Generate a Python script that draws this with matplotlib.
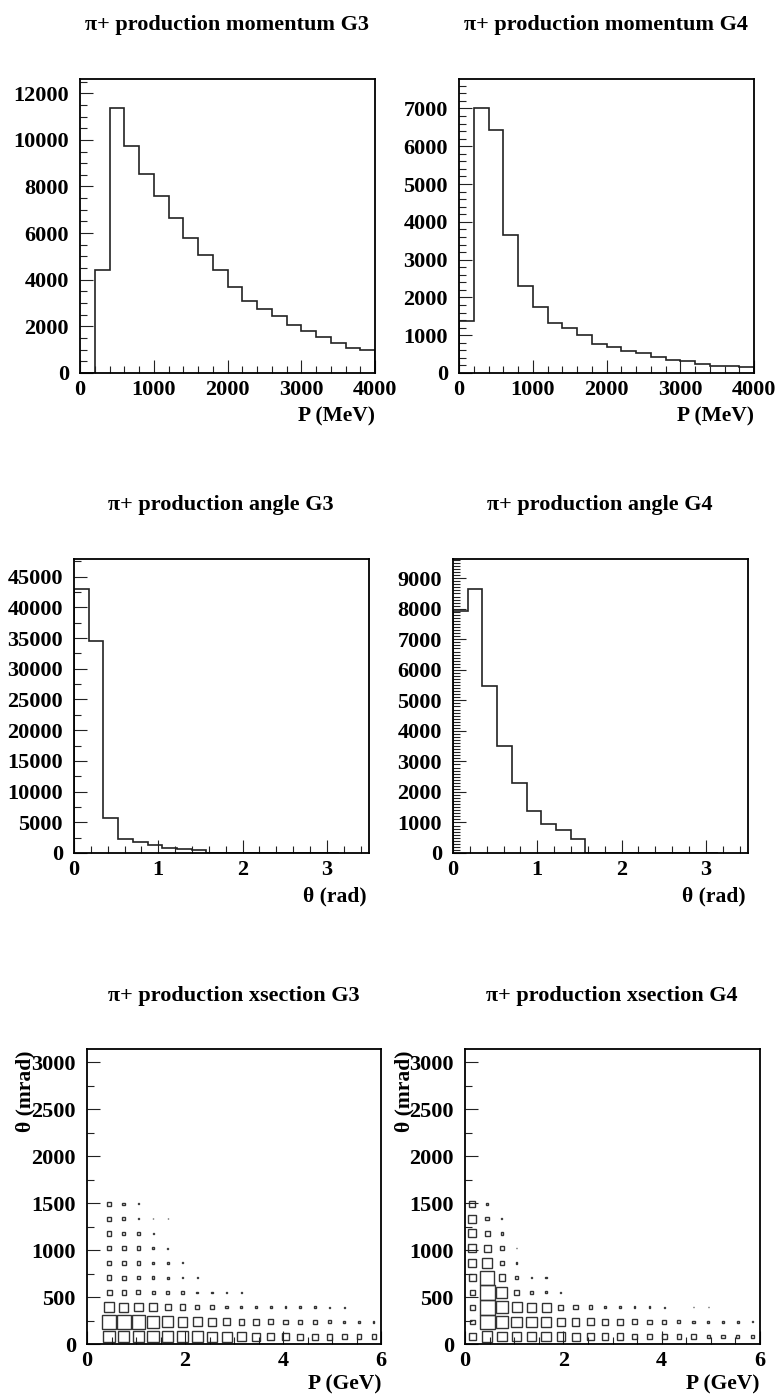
import matplotlib
matplotlib.use("Agg")
import matplotlib.pyplot as plt
import numpy as np
from matplotlib.patches import Rectangle
from matplotlib.ticker import MultipleLocator

W, H = 777, 1396

# momentum histograms, 200 MeV bins from 0 to 4000 MeV
p_edges = np.arange(0, 4001, 200)
mom_g3 = [0, 4410, 11360, 9750, 8520, 7590, 6630, 5790, 5070, 4410,
          3670, 3090, 2750, 2460, 2080, 1790, 1550, 1300, 1070, 970]
mom_g4 = [1370, 7000, 6440, 3640, 2300, 1750, 1330, 1190, 1010, 780,
          690, 590, 520, 420, 350, 320, 250, 190, 190, 150]

# angle histograms, 18 bins from 0 to pi
theta_edges = np.linspace(0, np.pi, 19)
ang_g3 = [43000, 34600, 5690, 2280, 1790, 1250, 870, 650, 430,
          0, 0, 0, 0, 0, 0, 0, 0, 0]
ang_g4 = [7940, 8650, 5470, 3520, 2290, 1390, 960, 740, 460,
          0, 0, 0, 0, 0, 0, 0, 0, 0]

# xsection boxes: 20 P bins (0-6 GeV) x 20 theta bins (0-pi rad), rows from theta=0
box_p_edges = np.linspace(0, 6, 21)
box_t_edges = np.linspace(0, np.pi * 1000, 21)
xs_g3 = [
    [0, 35, 34, 35, 35, 34, 34, 33, 31, 30, 26, 24, 21, 21, 18, 19, 18, 16, 15, 13],
    [0, 45, 43, 42, 37, 34, 30, 28, 26, 22, 17, 18, 15, 14, 12, 11, 9, 6, 5, 4],
    [0, 30, 28, 26, 24, 20, 17, 13, 11, 8, 7, 6, 5, 5, 4, 4, 3, 3, 0, 0],
    [0, 15, 13, 12, 10, 9, 8, 5, 4, 3, 2, 0, 0, 0, 0, 0, 0, 0, 0, 0],
    [0, 14, 12, 10, 8, 6, 4, 2, 0, 0, 0, 0, 0, 0, 0, 0, 0, 0, 0, 0],
    [0, 14, 11, 10, 7, 5, 3, 0, 0, 0, 0, 0, 0, 0, 0, 0, 0, 0, 0, 0],
    [0, 13, 12, 10, 5, 3, 0, 0, 0, 0, 0, 0, 0, 0, 0, 0, 0, 0, 0, 0],
    [0, 13, 10, 7, 3, 0, 0, 0, 0, 0, 0, 0, 0, 0, 0, 0, 0, 0, 0, 0],
    [0, 12, 8, 4, 2, 2, 0, 0, 0, 0, 0, 0, 0, 0, 0, 0, 0, 0, 0, 0],
    [0, 12, 8, 3, 2, 0, 0, 0, 0, 0, 0, 0, 0, 0, 0, 0, 0, 0, 0, 0],
]
xs_g4 = [
    [20, 32, 28, 27, 26, 28, 26, 24, 22, 20, 19, 17, 16, 15, 14, 14, 11, 10, 9, 8],
    [14, 44, 35, 31, 31, 30, 24, 23, 21, 17, 16, 15, 13, 12, 9, 8, 6, 5, 4, 3],
    [15, 44, 36, 30, 27, 27, 15, 13, 10, 7, 6, 5, 4, 3, 0, 2, 2, 0, 0, 0],
    [17, 44, 33, 16, 8, 6, 3, 0, 0, 0, 0, 0, 0, 0, 0, 0, 0, 0, 0, 0],
    [20, 42, 20, 10, 5, 4, 0, 0, 0, 0, 0, 0, 0, 0, 0, 0, 0, 0, 0, 0],
    [24, 30, 13, 5, 0, 0, 0, 0, 0, 0, 0, 0, 0, 0, 0, 0, 0, 0, 0, 0],
    [24, 21, 10, 2, 0, 0, 0, 0, 0, 0, 0, 0, 0, 0, 0, 0, 0, 0, 0, 0],
    [24, 15, 8, 0, 0, 0, 0, 0, 0, 0, 0, 0, 0, 0, 0, 0, 0, 0, 0, 0],
    [24, 10, 3, 0, 0, 0, 0, 0, 0, 0, 0, 0, 0, 0, 0, 0, 0, 0, 0, 0],
    [18, 8, 0, 0, 0, 0, 0, 0, 0, 0, 0, 0, 0, 0, 0, 0, 0, 0, 0, 0],
]

plt.rcParams["font.family"] = ["Liberation Serif", "DejaVu Serif"]
plt.rcParams["font.weight"] = "bold"

fig = plt.figure(figsize=(W / 100, H / 100), dpi=100)


def make_axes(left, top, right, bottom):
    ax = fig.add_axes([left / W, 1 - bottom / H, (right - left) / W, (bottom - top) / H])
    for sp in ax.spines.values():
        sp.set_linewidth(1.3)
    ax.tick_params(which="both", direction="in", top=False, right=False,
                   labelsize=16, width=0.8, colors="#222222", labelcolor="black")
    ax.tick_params(which="major", length=9.5, pad=5)
    ax.tick_params(which="minor", length=4.8)
    ax.tick_params(axis="y", which="major", pad=8)
    return ax


def title(text, xc, yc):
    fig.text(xc / W, 1 - yc / H, text, ha="center", va="center", fontsize=16, fontweight="bold")


def xlabel(text, xr, yc):
    fig.text(xr / W, 1 - yc / H, text, ha="right", va="center", fontsize=15.5, fontweight="bold")


def hist_panel(rect, edges, values, xlim, ylim, xmaj, xmin, ymaj, ymin):
    ax = make_axes(*rect)
    ax.stairs(values, edges, color="#222222", linewidth=1.2)
    ax.set_xlim(*xlim)
    ax.set_ylim(*ylim)
    ax.xaxis.set_major_locator(MultipleLocator(xmaj))
    ax.xaxis.set_minor_locator(MultipleLocator(xmin))
    ax.yaxis.set_major_locator(MultipleLocator(ymaj))
    ax.yaxis.set_minor_locator(MultipleLocator(ymin))
    return ax


def box_panel(rect, counts):
    ax = make_axes(*rect)
    counts = np.array(counts, dtype=float)
    cmax = counts.max()
    cw = box_p_edges[1] - box_p_edges[0]
    ch = box_t_edges[1] - box_t_edges[0]
    for j in range(counts.shape[0]):
        for i in range(counts.shape[1]):
            c = counts[j, i]
            if c <= 0:
                continue
            f = c / cmax
            xc = 0.5 * (box_p_edges[i] + box_p_edges[i + 1])
            yc = 0.5 * (box_t_edges[j] + box_t_edges[j + 1])
            ax.add_patch(Rectangle((xc - f * cw / 2, yc - f * ch / 2), f * cw, f * ch,
                                   fill=False, edgecolor="#333333", linewidth=1.0))
    ax.set_xlim(0, 6)
    ax.set_ylim(0, np.pi * 1000)
    ax.xaxis.set_major_locator(MultipleLocator(2))
    ax.xaxis.set_minor_locator(MultipleLocator(0.5))
    ax.yaxis.set_major_locator(MultipleLocator(500))
    ax.yaxis.set_minor_locator(MultipleLocator(250))
    return ax


# row 1: momentum
hist_panel((80, 79, 375, 373), p_edges, mom_g3, (0, 4000), (0, 12610), 1000, 200, 2000, 500)
title("\u03c0+ production momentum G3", 227, 25)
xlabel("P (MeV)", 375, 416)

hist_panel((459, 79, 754, 373), p_edges, mom_g4, (0, 4000), (0, 7780), 1000, 200, 1000, 200)
title("\u03c0+ production momentum G4", 606, 25)
xlabel("P (MeV)", 754, 416)

# row 2: angle
hist_panel((74, 559, 369, 853), theta_edges, ang_g3, (0, 3.5), (0, 47880), 1, 0.2, 5000, 2500)
title("\u03c0+ production angle G3", 221, 505)
xlabel("\u03b8 (rad)", 367, 896)

hist_panel((453, 559, 748, 853), theta_edges, ang_g4, (0, 3.5), (0, 9630), 1, 0.2, 1000, 100)
title("\u03c0+ production angle G4", 600, 505)
xlabel("\u03b8 (rad)", 746, 896)

# row 3: xsection boxes
box_panel((87, 1049, 381, 1344), xs_g3)
title("\u03c0+ production xsection G3", 234, 996)
xlabel("P (GeV)", 381, 1384)
fig.text(25 / W, 1 - 1050 / H, "\u03b8 (mrad)", rotation=90, ha="center", va="top",
         fontsize=15.5, fontweight="bold")

box_panel((465, 1049, 760, 1344), xs_g4)
title("\u03c0+ production xsection G4", 612, 996)
xlabel("P (GeV)", 760, 1384)
fig.text(404 / W, 1 - 1050 / H, "\u03b8 (mrad)", rotation=90, ha="center", va="top",
         fontsize=15.5, fontweight="bold")

fig.savefig("out.png", dpi=100)
